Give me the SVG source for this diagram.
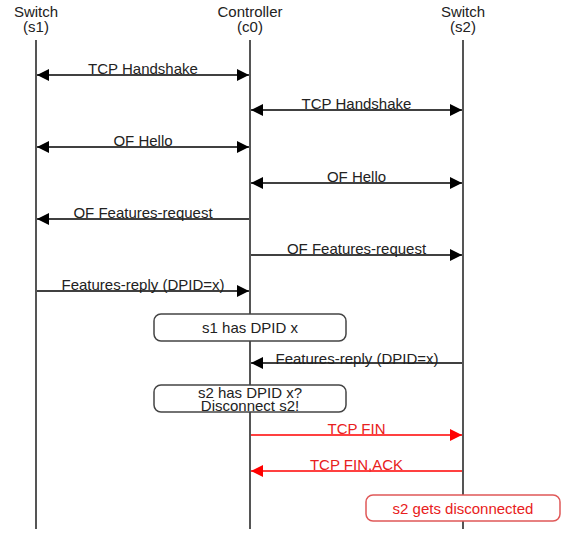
<svg xmlns="http://www.w3.org/2000/svg" width="564" height="533" viewBox="0 0 564 533">
<defs>
<marker id="ah" markerWidth="12" markerHeight="12" refX="12" refY="6" orient="auto-start-reverse" markerUnits="userSpaceOnUse">
<path d="M0,0 L12,6 L0,12 Z" fill="#000"/>
</marker>
<marker id="ahr" markerWidth="12" markerHeight="12" refX="12" refY="6" orient="auto-start-reverse" markerUnits="userSpaceOnUse">
<path d="M0,0 L12,6 L0,12 Z" fill="#f00"/>
</marker>
<style>
text{font-family:"Liberation Sans",Arial,sans-serif;font-size:15px;text-anchor:middle;fill:#222}
.life{stroke:#555;stroke-width:2;fill:none}
.msg{stroke:#000;stroke-width:1.5;fill:none}
.red{stroke:#f00;stroke-width:1.5;fill:none}
.rt{fill:#e82020}
.note{fill:#fff;stroke:#444;stroke-width:1.5}
.rnote{fill:#fff;stroke:#e05858;stroke-width:1.5}
</style>
</defs>
<rect width="564" height="533" fill="#fff"/>
<g id="s1">
<line class="life" x1="36" y1="40" x2="36" y2="529"/>
<text x="36" y="17">Switch</text>
<text x="36" y="32">(s1)</text>
</g>
<g id="c0">
<line class="life" x1="250" y1="40" x2="250" y2="529"/>
<text x="250" y="17">Controller</text>
<text x="250" y="32">(c0)</text>
</g>
<g id="s2">
<line class="life" x1="463" y1="40" x2="463" y2="529"/>
<text x="463" y="17">Switch</text>
<text x="463" y="32">(s2)</text>
</g>
<g id="connectors">
<line class="msg" x1="37" y1="75" x2="249" y2="75" marker-start="url(#ah)" marker-end="url(#ah)"/>
<text x="143" y="74">TCP Handshake</text>
<line class="msg" x1="251" y1="110" x2="462" y2="110" marker-start="url(#ah)" marker-end="url(#ah)"/>
<text x="356.5" y="109">TCP Handshake</text>
<line class="msg" x1="37" y1="147" x2="249" y2="147" marker-start="url(#ah)" marker-end="url(#ah)"/>
<text x="143" y="146">OF Hello</text>
<line class="msg" x1="251" y1="183" x2="462" y2="183" marker-start="url(#ah)" marker-end="url(#ah)"/>
<text x="356.5" y="182">OF Hello</text>
<line class="msg" x1="249" y1="219" x2="37" y2="219" marker-end="url(#ah)"/>
<text x="143" y="218">OF Features-request</text>
<line class="msg" x1="251" y1="255" x2="462" y2="255" marker-end="url(#ah)"/>
<text x="356.5" y="254">OF Features-request</text>
<line class="msg" x1="37" y1="291" x2="249" y2="291" marker-end="url(#ah)"/>
<text x="143" y="290">Features-reply (DPID=x)</text>
<line class="msg" x1="462" y1="363" x2="251" y2="363" marker-end="url(#ah)"/>
<text x="357" y="364">Features-reply (DPID=x)</text>
<line class="red" x1="251" y1="435" x2="462" y2="435" marker-end="url(#ahr)"/>
<text class="rt" x="356.5" y="434">TCP FIN</text>
<line class="red" x1="462" y1="471" x2="251" y2="471" marker-end="url(#ahr)"/>
<text class="rt" x="356.5" y="470">TCP FIN,ACK</text>
</g>
<g id="note1">
<rect class="note" x="154" y="314" width="192" height="27" rx="7"/>
<text x="250" y="333">s1 has DPID x</text>
</g>
<g id="note2">
<rect class="note" x="154" y="385" width="192" height="27" rx="7"/>
<text x="250" y="397.5">s2 has DPID x?</text>
<text x="250" y="411">Disconnect s2!</text>
</g>
<g id="note3">
<rect class="rnote" x="366" y="495" width="194" height="26" rx="7"/>
<text class="rt" x="463" y="514">s2 gets disconnected</text>
</g>
</svg>
